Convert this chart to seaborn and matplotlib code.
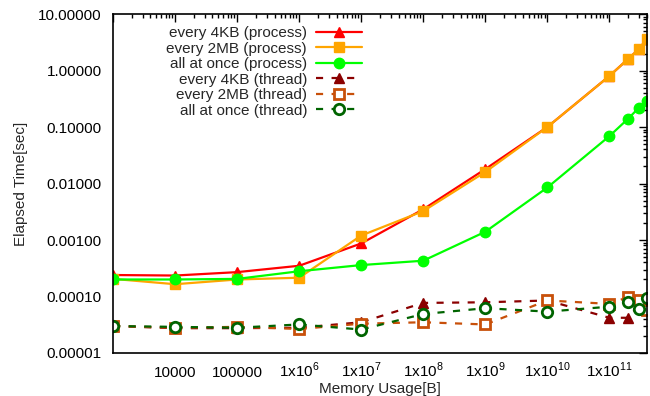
import numpy as np
import pandas as pd
import matplotlib
matplotlib.use("Agg")
import matplotlib.pyplot as plt
import seaborn as sns
from matplotlib.ticker import FixedLocator, FixedFormatter, LogLocator, NullFormatter

sns.set_style("white")
plt.rcParams['font.family'] = ['Liberation Sans', 'DejaVu Sans']
plt.rcParams['mathtext.fontset'] = 'custom'
plt.rcParams['mathtext.rm'] = 'Liberation Sans'

memory = [1e3, 1e4, 1e5, 1e6, 1e7, 1e8, 1e9, 1e10, 1e11, 2e11, 3e11, 4e11]

proc_4kb = [2.4e-4, 2.35e-4, 2.7e-4, 3.5e-4, 8.7e-4, 3.5e-3, 0.018, 0.1, 0.8, 1.6, 2.4, 3.6]
proc_2mb = [2.05e-4, 1.65e-4, 2.0e-4, 2.15e-4, 1.2e-3, 3.25e-3, 0.016, 0.1, 0.8, 1.6, 2.4, 3.6]
proc_all = [2.0e-4, 2.0e-4, 2.05e-4, 2.8e-4, 3.6e-4, 4.3e-4, 1.4e-3, 0.0085, 0.069, 0.14, 0.22, 0.29]
thr_4kb = [3.0e-5, 2.75e-5, 2.75e-5, 2.8e-5, 3.5e-5, 7.7e-5, 7.9e-5, 8.5e-5, 4.2e-5, 4.2e-5, 7.0e-5, 6.0e-5]
thr_2mb = [3.0e-5, 2.8e-5, 2.9e-5, 2.66e-5, 3.3e-5, 3.5e-5, 3.2e-5, 8.5e-5, 7.4e-5, 9.8e-5, 8.7e-5, 5.8e-5]
thr_all = [3.0e-5, 2.9e-5, 2.8e-5, 3.2e-5, 2.6e-5, 4.9e-5, 6.2e-5, 5.4e-5, 6.6e-5, 8.1e-5, 5.9e-5, 9.3e-5]

labels = ["every 4KB (process)", "every 2MB (process)", "all at once (process)",
          "every 4KB (thread)", "every 2MB (thread)", "all at once (thread)"]
values = [proc_4kb, proc_2mb, proc_all, thr_4kb, thr_2mb, thr_all]

x_ticks = [1e3, 1e4, 1e5, 1e6, 1e7, 1e8, 1e9, 1e10, 1e11]
x_tick_labels = ["", "10000", "100000", r"1x10$^{6}$", r"1x10$^{7}$", r"1x10$^{8}$",
                 r"1x10$^{9}$", r"1x10$^{10}$", r"1x10$^{11}$"]
y_ticks = [1e-5, 1e-4, 1e-3, 1e-2, 1e-1, 1, 10]
y_tick_labels = ["0.00001", "0.00010", "0.00100", "0.01000", "0.10000", "1.00000", "10.00000"]

df = pd.concat([pd.DataFrame({"memory": memory, "time": v, "series": l})
                for l, v in zip(labels, values)], ignore_index=True)

colors = ["#ff0000", "#ffa500", "#00ff00", "#8b0000", "#c8500a", "#006400"]
markers = ["^", "s", "o", "^", "s", "o"]
filled = [True, True, True, True, False, False]
dashed = [False, False, False, True, True, True]

fig = plt.figure(figsize=(6.5, 3.96), dpi=100)
ax = fig.add_axes([0.174, 0.1086, 0.821, 0.856])

for lab, c, m, f, d in zip(labels, colors, markers, filled, dashed):
    sub = df[df["series"] == lab]
    sns.lineplot(data=sub, x="memory", y="time", ax=ax, color=c, label=lab,
                 marker=m, markersize=7.5,
                 markerfacecolor=c if f else "white",
                 markeredgecolor=c, markeredgewidth=1.0 if f else 2.0,
                 linewidth=1.6, linestyle=(0, (3.2, 3.8)) if d else "-",
                 estimator=None, sort=False, clip_on=True)

ax.set_xscale("log")
ax.set_yscale("log")
ax.set_xlim(1e3, 4e11)
ax.set_ylim(1e-5, 10)

ax.xaxis.set_major_locator(FixedLocator(x_ticks))
ax.xaxis.set_major_formatter(FixedFormatter(x_tick_labels))
ax.xaxis.set_minor_locator(LogLocator(base=10, subs=np.arange(2, 10), numticks=20))
ax.xaxis.set_minor_formatter(NullFormatter())
ax.yaxis.set_major_locator(FixedLocator(y_ticks))
ax.yaxis.set_major_formatter(FixedFormatter(y_tick_labels))
ax.yaxis.set_minor_locator(LogLocator(base=10, subs=np.arange(2, 10), numticks=20))
ax.yaxis.set_minor_formatter(NullFormatter())

ax.tick_params(which="both", direction="in", top=True, right=True, colors="black",
               labelsize=11, width=1.0)
ax.tick_params(which="major", length=6)
ax.tick_params(which="minor", length=3)
ax.tick_params(axis="y", which="major", pad=8)
ax.tick_params(axis="x", which="major", pad=17)
for lbl in ax.get_xticklabels():
    lbl.set_verticalalignment("baseline")
for s in ax.spines.values():
    s.set_visible(True)
    s.set_color("black")
    s.set_linewidth(1.2)

ax.set_xlabel("Memory Usage[B]", fontsize=11, labelpad=2)
ax.set_ylabel("Elapsed Time[sec]", fontsize=11, labelpad=7.5)
ax.grid(False)

leg = ax.legend(loc="upper right", bbox_to_anchor=(362 / 650, 1 - 26 / 396),
                bbox_transform=fig.transFigure, frameon=False, markerfirst=False,
                fontsize=11, handlelength=3.0, handletextpad=0.6, labelspacing=0.1,
                borderpad=0, borderaxespad=0)

fig.savefig("out.png", dpi=100, facecolor="white")
